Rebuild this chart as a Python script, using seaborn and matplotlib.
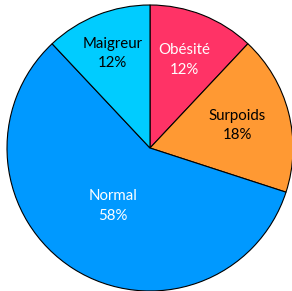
import numpy as np
import matplotlib
matplotlib.use('Agg')
import matplotlib.pyplot as plt
import seaborn as sns

# Data
categories = ['Obésité', 'Surpoids', 'Normal', 'Maigreur']
values = [12, 18, 58, 12]
colors = ['#FF3366', '#FF9933', '#0099FF', '#00CCFF']
text_colors = ['white', 'black', 'white', 'black']
label_dist = [0.66, 0.63, 0.48, 0.71]

sns.set_theme(style='white')
plt.rcParams['font.family'] = ['Lato', 'DejaVu Sans']

fig = plt.figure(figsize=(2.92, 2.91), dpi=100)
ax = fig.add_axes([0, 0, 1, 1])

wedges, _ = ax.pie(values, colors=sns.color_palette(colors), startangle=90,
                   counterclock=False, radius=1,
                   wedgeprops=dict(edgecolor='black', linewidth=0.8))

total = sum(values)
for w, name, v, tc, d in zip(wedges, categories, values, text_colors, label_dist):
    ang = np.deg2rad((w.theta1 + w.theta2) / 2)
    ax.text(d * np.cos(ang), d * np.sin(ang), f'{name}\n{round(100 * v / total)}%',
            ha='center', va='center', color=tc, fontsize=10.8, linespacing=1.5)

ax.set_xlim(-150 / 143, 142 / 143)
ax.set_ylim(-143 / 143, 148 / 143)
ax.set_aspect('auto')
ax.axis('off')

fig.savefig('out.png', dpi=100)
